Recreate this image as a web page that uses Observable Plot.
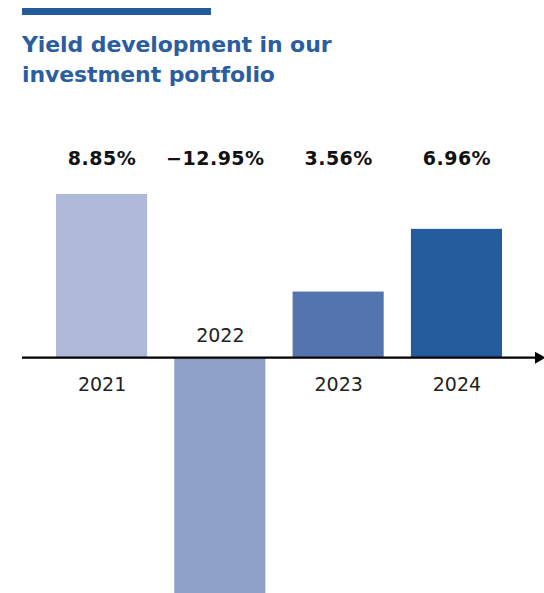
<!DOCTYPE html>
<html>
<head>
<meta charset="utf-8">
<script src="https://cdn.jsdelivr.net/npm/d3@7"></script>
<script src="https://cdn.jsdelivr.net/npm/@observablehq/plot@0.6"></script>
<style>
  html, body { margin: 0; padding: 0; background: #fff; }
  #wrap { position: relative; width: 544px; height: 593px; overflow: hidden; }
  #bar { position: absolute; left: 22px; top: 8px; width: 189px; height: 7px; background: #245b9c; }
  #title { position: absolute; left: 22px; top: 30px; margin: 0; font-family: "DejaVu Sans", sans-serif; font-weight: 700; font-size: 22px; line-height: 30px; color: #2b5e9e; letter-spacing: -0.1px; }
  #chart { position: absolute; left: 0; top: 0; }
  #chart text.val { letter-spacing: 0.5px; }
</style>
</head>
<body>
<div id="wrap">
  <div id="chart"></div>
  <div id="bar"></div>
  <h2 id="title">Yield development in our<br>investment portfolio</h2>
</div>
<script>
const years = ["2021", "2022", "2023", "2024"];
const values = [8.85, -12.95, 3.56, 6.96];
const labels = ["8.85%", "\u221212.95%", "3.56%", "6.96%"];
const colors = ["#b0b9da", "#8e9fc8", "#5474ae", "#245b9c"];

const data = years.map((y, i) => ({year: y, value: values[i], label: labels[i], color: colors[i]}));

const chart = Plot.plot({
  width: 544,
  height: 593,
  marginTop: 150,
  marginLeft: 22,
  marginRight: 6,
  marginBottom: 1,
  style: {fontFamily: "DejaVu Sans, sans-serif", background: "transparent"},
  x: {domain: years, range: [28.8, 529.2], padding: 0.23, round: false, axis: null},
  y: {domain: [-12.95, 8.85], range: [596, 194], axis: null},
  marks: [
    Plot.barY(data, {x: "year", y: "value", fill: "color"}),
    Plot.ruleY([0], {stroke: "#000", strokeWidth: 2.2}),
    Plot.dot([0], {y: d => d, frameAnchor: "right", symbol: "triangle", rotate: 90, r: 4.5, fill: "#000", stroke: "none"}),
    Plot.text(data.filter(d => d.value >= 0), {x: "year", text: "label", frameAnchor: "top", lineAnchor: "middle", dy: 8, fontSize: 19, fontWeight: 700, fill: "#111"}),
    Plot.text(data.filter(d => d.value < 0), {x: "year", text: "label", frameAnchor: "top", lineAnchor: "middle", dy: 8, dx: -5, fontSize: 19, fontWeight: 700, fill: "#111"}),
    Plot.text(data.filter(d => d.value >= 0), {x: "year", y: 0, text: "year", dy: 27, lineAnchor: "middle", fontSize: 19, fill: "#222"}),
    Plot.text(data.filter(d => d.value < 0), {x: "year", y: 0, text: "year", dy: -22, lineAnchor: "middle", fontSize: 19, fill: "#222"})
  ]
});
chart.querySelectorAll("g").forEach(g => {
  if (g.getAttribute("font-weight") === "700") g.querySelectorAll("text").forEach(t => t.setAttribute("class", "val"));
});
document.getElementById("chart").appendChild(chart);
</script>
</body>
</html>
